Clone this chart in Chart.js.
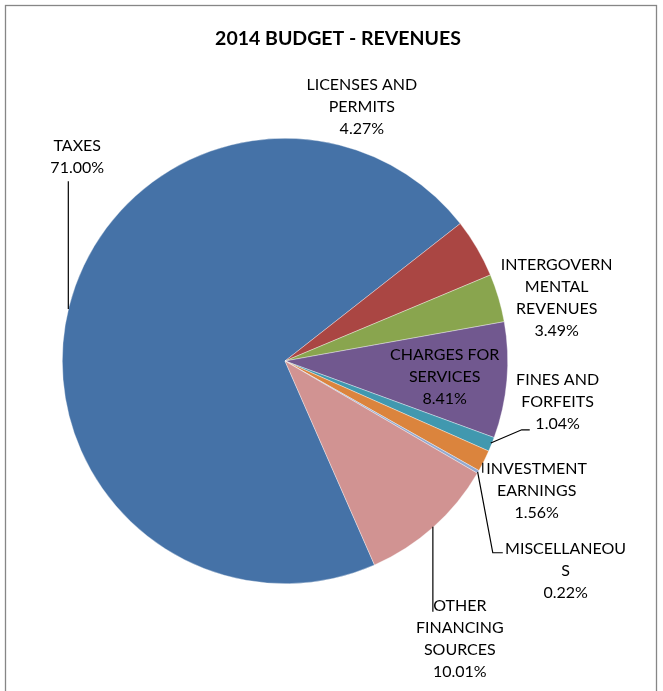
<!DOCTYPE html>
<html>
<head>
<meta charset="utf-8">
<title>2014 Budget - Revenues</title>
<script src="https://cdn.jsdelivr.net/npm/chart.js@4"></script>
<style>
  html, body { margin: 0; padding: 0; background: #fff; }
  canvas { display: block; }
</style>
</head>
<body>
<canvas id="revenueChart" width="663" height="691"></canvas>
<script>
// Revenue categories and their share of the budget (percent)
const categories = [
    'TAXES',
    'LICENSES AND PERMITS',
    'INTERGOVERNMENTAL REVENUES',
    'CHARGES FOR SERVICES',
    'FINES AND FORFEITS',
    'INVESTMENT EARNINGS',
    'MISCELLANEOUS',
    'OTHER FINANCING SOURCES'
];
const shares = [71.00, 4.27, 3.49, 8.41, 1.04, 1.56, 0.22, 10.01];

// Label text, broken the way the cells wrap
const labelLines = [
    ['TAXES'],
    ['LICENSES AND', 'PERMITS'],
    ['INTERGOVERN', 'MENTAL', 'REVENUES'],
    ['CHARGES FOR', 'SERVICES'],
    ['FINES AND', 'FORFEITS'],
    ['INVESTMENT', 'EARNINGS'],
    ['MISCELLANEOU', 'S'],
    ['OTHER', 'FINANCING', 'SOURCES']
];

const sliceColors = ['#4572A7', '#AA4643', '#89A54E', '#71588F', '#4198AF', '#DB843D', '#93A9CF', '#D19392'];

// label block centres, in pie radii from the centre
const labelSpots = [
    [-0.933, -0.915], [0.345, -1.143], [1.220, -0.283], [0.717, 0.072],
    [1.224, 0.184], [1.130, 0.583], [1.260, 0.942], [0.785, 1.247]
];

// leader lines, in pie radii from the centre (null = none)
const leaders = [
    [[-0.973, -0.233], [-0.973, -0.807]],
    null, null, null,
    [[0.924, 0.368], [1.063, 0.309], [1.099, 0.309]],
    [[0.888, 0.457], [0.888, 0.502]],
    [[0.865, 0.498], [0.933, 0.861], [0.978, 0.861]],
    [[0.664, 0.744], [0.664, 1.126]]
];

const LABEL_FONT = '16px Lato, "Open Sans", sans-serif';
const LINE_H = 22;

const decorPlugin = {
    id: 'decor',
    beforeDraw(chart) {
        const ctx = chart.ctx;
        ctx.save();
        ctx.fillStyle = '#fff';
        ctx.fillRect(0, 0, chart.width, chart.height);
        ctx.restore();
    },
    afterDraw(chart) {
        const ctx = chart.ctx;
        const arcs = chart.getDatasetMeta(0).data;
        const cx = arcs[0].x, cy = arcs[0].y, r = arcs[0].outerRadius;

        ctx.save();
        // frame
        ctx.strokeStyle = '#868686';
        ctx.lineWidth = 1.3;
        ctx.strokeRect(5.5, 5.5, 651, 720);

        // title
        ctx.fillStyle = '#000';
        ctx.font = 'bold 19.5px Lato, "Open Sans", sans-serif';
        ctx.textAlign = 'center';
        ctx.textBaseline = 'middle';
        ctx.fillText('2014 BUDGET - REVENUES', 338, 39);

        // leader lines
        ctx.strokeStyle = '#000';
        ctx.lineWidth = 1.2;
        leaders.forEach(pts => {
            if (!pts) return;
            ctx.beginPath();
            pts.forEach((p, i) => {
                const x = cx + p[0] * r, y = cy + p[1] * r;
                if (i === 0) ctx.moveTo(x, y); else ctx.lineTo(x, y);
            });
            ctx.stroke();
        });

        // data labels
        ctx.font = LABEL_FONT;
        ctx.fillStyle = '#000';
        shares.forEach((v, i) => {
            const lines = labelLines[i].concat([v.toFixed(2) + '%']);
            const x = cx + labelSpots[i][0] * r;
            const y0 = cy + labelSpots[i][1] * r - (lines.length - 1) * LINE_H / 2;
            lines.forEach((t, k) => ctx.fillText(t, x, y0 + k * LINE_H));
        });
        ctx.restore();
    }
};

new Chart(document.getElementById('revenueChart'), {
    type: 'pie',
    data: {
        labels: categories,
        datasets: [{
            data: shares,
            backgroundColor: sliceColors,
            borderColor: 'rgba(255,255,255,0.6)',
            borderWidth: 0.6
        }]
    },
    options: {
        responsive: false,
        animation: false,
        rotation: 156.3,
        layout: { padding: { left: 62, right: 155, top: 138, bottom: 107 } },
        plugins: {
            legend: { display: false },
            title: { display: false },
            tooltip: { enabled: false }
        }
    },
    plugins: [decorPlugin]
});
</script>
</body>
</html>
